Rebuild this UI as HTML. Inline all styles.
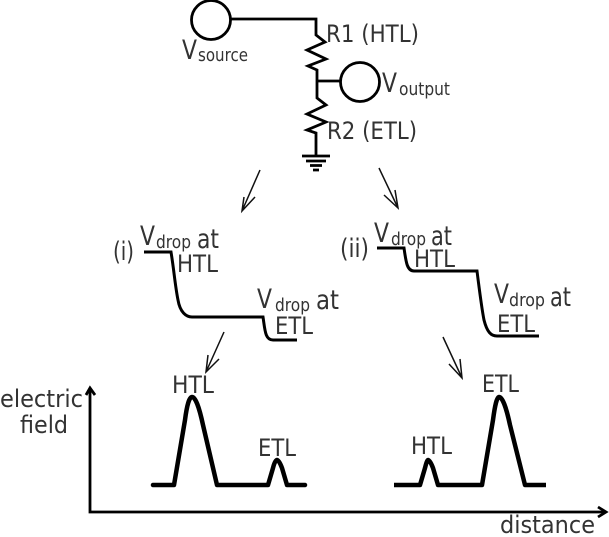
<!DOCTYPE html>
<html><head><meta charset="utf-8"><style>
html,body{margin:0;padding:0;background:#fff}
svg{display:block}
text{font-family:"DejaVu Sans","Liberation Sans",sans-serif;fill:#333}
.t{font-size:24px}.v{font-size:27px}.s{font-size:18px}.n{font-size:26px}
.l{fill:none;stroke:#000;stroke-width:2.8;stroke-linejoin:miter}
.a{fill:none;stroke:#111;stroke-width:1.5}
.c{fill:none;stroke:#000;stroke-width:3}
.p{fill:none;stroke:#000;stroke-width:4.500;stroke-linecap:round;stroke-linejoin:round}
</style></head><body>
<svg width="609" height="537" viewBox="0 0 609 537" xmlns="http://www.w3.org/2000/svg">
<circle cx="211" cy="20" r="19.5" fill="none" stroke="#000" stroke-width="2.8"/>
<circle cx="360" cy="82" r="19.5" fill="none" stroke="#000" stroke-width="2.8"/>
<path class="l" d="M231 19H316V35L325 42L307 50L326 59L308 66L317 70V98L326 105L307 114L326 122L307 130L316 133V156"/>
<path class="l" d="M317 81H341"/>
<path class="l" d="M302 156H330M306 161H326M310 165.500H322M313 170H319"/>
<path class="a" d="M260 170L242 211M244 197L242 211L255 197"/>
<path class="a" d="M379 168L398 208M384 195L398 208L395 190"/>
<path class="c" d="M144 252H171C174 270 175 285 178 300C180 312 186 317 192 317H263C265 330 265 340 273 340H297"/>
<path class="c" d="M377 248H404C406 262 407 271 414 271H477C480 295 482 310 484 320C487 332 491 336 497 336H539"/>
<path class="a" d="M224 332L206 372M208 355L206 372L219 359"/>
<path class="a" d="M443 337L462 378M449 364L462 378L460 359"/>
<path class="l" d="M90 390V512H606"/>
<path class="l" d="M86 395L90 388L95 395M598 507L606 512L598 517"/>
<path class="p" d="M153 485H174L185 420Q188 397 192 397Q197 397 203 425L217 485H268L273 468Q275 460 277 460Q279 460 282 468L287 485H305"/>
<path class="p" style="stroke-linecap:butt" d="M394 485H420L425 468Q427 460 428 460Q430 460 433 468L438 485H482L493 420Q496 397 499 397Q504 397 510 425L525 485H546"/>
<text class="t" x="326" y="42" textLength="93" lengthAdjust="spacingAndGlyphs">R1 (HTL)</text>
<text class="t" x="327" y="139" textLength="90" lengthAdjust="spacingAndGlyphs">R2 (ETL)</text>
<text class="v" x="182" y="59" textLength="15" lengthAdjust="spacingAndGlyphs">V</text>
<text class="s" x="198" y="61" textLength="50" lengthAdjust="spacingAndGlyphs">source</text>
<text class="v" x="382" y="92" textLength="15" lengthAdjust="spacingAndGlyphs">V</text>
<text class="s" x="399" y="95" textLength="51" lengthAdjust="spacingAndGlyphs">output</text>
<text class="n" x="113" y="260" textLength="21" lengthAdjust="spacingAndGlyphs">(i)</text>
<text class="v" x="140" y="245" textLength="15" lengthAdjust="spacingAndGlyphs">V</text>
<text class="s" x="156" y="248" textLength="35" lengthAdjust="spacingAndGlyphs">drop</text>
<text class="v" x="197" y="248" textLength="22" lengthAdjust="spacingAndGlyphs">at</text>
<text class="t" x="177" y="272" textLength="41" lengthAdjust="spacingAndGlyphs">HTL</text>
<text class="v" x="257" y="308" textLength="15" lengthAdjust="spacingAndGlyphs">V</text>
<text class="s" x="275" y="311" textLength="35" lengthAdjust="spacingAndGlyphs">drop</text>
<text class="v" x="316" y="309" textLength="23" lengthAdjust="spacingAndGlyphs">at</text>
<text class="t" x="275" y="334" textLength="38" lengthAdjust="spacingAndGlyphs">ETL</text>
<text class="n" x="340" y="257" textLength="29" lengthAdjust="spacingAndGlyphs">(ii)</text>
<text class="v" x="374" y="242" textLength="15" lengthAdjust="spacingAndGlyphs">V</text>
<text class="s" x="391" y="245" textLength="35" lengthAdjust="spacingAndGlyphs">drop</text>
<text class="v" x="431" y="245" textLength="21" lengthAdjust="spacingAndGlyphs">at</text>
<text class="t" x="414" y="267" textLength="41" lengthAdjust="spacingAndGlyphs">HTL</text>
<text class="v" x="494" y="303" textLength="15" lengthAdjust="spacingAndGlyphs">V</text>
<text class="s" x="509" y="306" textLength="36" lengthAdjust="spacingAndGlyphs">drop</text>
<text class="v" x="550" y="306" textLength="21" lengthAdjust="spacingAndGlyphs">at</text>
<text class="t" x="497" y="332" textLength="38" lengthAdjust="spacingAndGlyphs">ETL</text>
<text class="t" x="172" y="393" textLength="42" lengthAdjust="spacingAndGlyphs">HTL</text>
<text class="t" x="258" y="456" textLength="38" lengthAdjust="spacingAndGlyphs">ETL</text>
<text class="t" x="411" y="454" textLength="41" lengthAdjust="spacingAndGlyphs">HTL</text>
<text class="t" x="482" y="392" textLength="37" lengthAdjust="spacingAndGlyphs">ETL</text>
<text class="t" x="0" y="407" textLength="83" lengthAdjust="spacingAndGlyphs">electric</text>
<text class="t" x="20" y="433" textLength="48" lengthAdjust="spacingAndGlyphs">field</text>
<text class="t" x="500" y="533" textLength="95" lengthAdjust="spacingAndGlyphs">distance</text>
</svg>
</body></html>
